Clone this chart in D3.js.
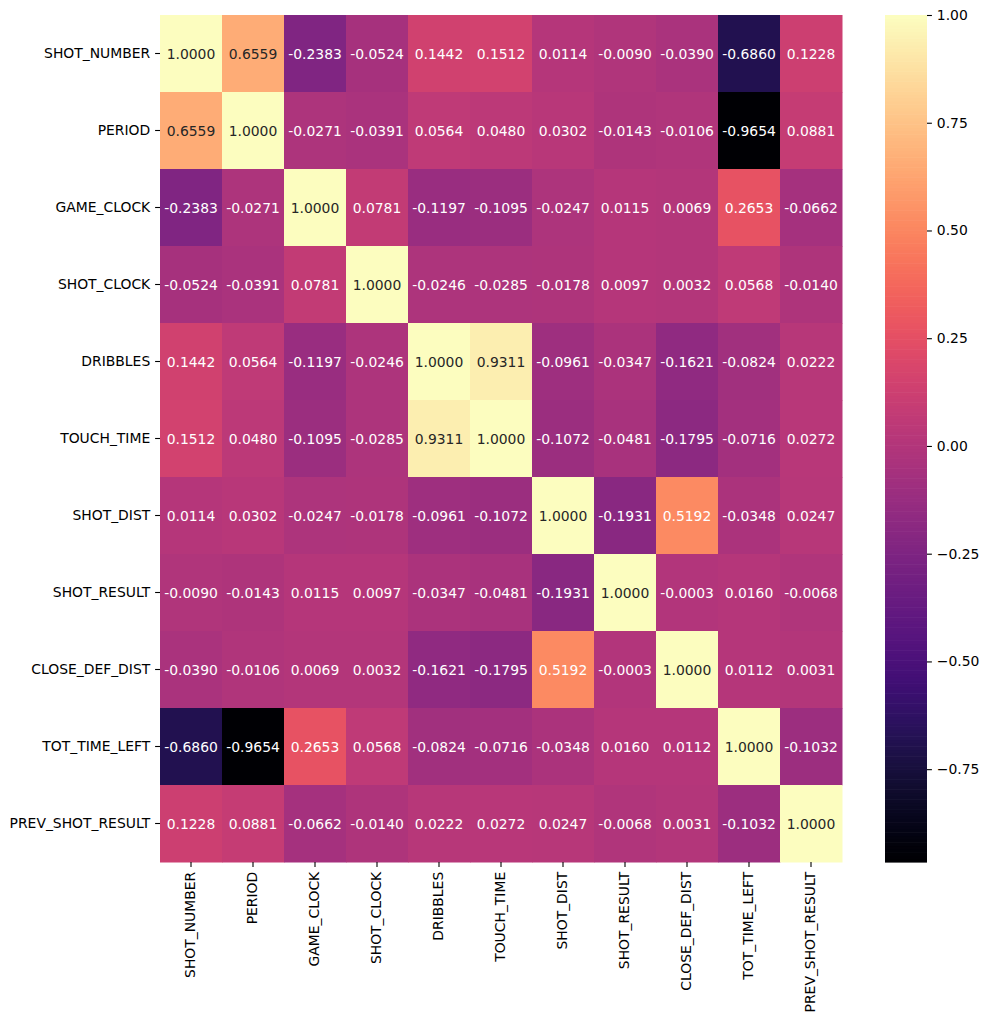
<!DOCTYPE html>
<html><head><meta charset="utf-8">
<script src="https://cdn.jsdelivr.net/npm/d3@7"></script>
<style>body{margin:0;background:#fff}svg text{font-family:"DejaVu Sans",sans-serif}</style>
</head><body><svg id="c" width="989" height="1022"></svg>
<script>
const categories = ["SHOT_NUMBER","PERIOD","GAME_CLOCK","SHOT_CLOCK","DRIBBLES","TOUCH_TIME","SHOT_DIST","SHOT_RESULT","CLOSE_DEF_DIST","TOT_TIME_LEFT","PREV_SHOT_RESULT"];
const rowShotNumber = [1.0000,0.6559,-0.2383,-0.0524,0.1442,0.1512,0.0114,-0.0090,-0.0390,-0.6860,0.1228];
const rowPeriod = [0.6559,1.0000,-0.0271,-0.0391,0.0564,0.0480,0.0302,-0.0143,-0.0106,-0.9654,0.0881];
const rowGameClock = [-0.2383,-0.0271,1.0000,0.0781,-0.1197,-0.1095,-0.0247,0.0115,0.0069,0.2653,-0.0662];
const rowShotClock = [-0.0524,-0.0391,0.0781,1.0000,-0.0246,-0.0285,-0.0178,0.0097,0.0032,0.0568,-0.0140];
const rowDribbles = [0.1442,0.0564,-0.1197,-0.0246,1.0000,0.9311,-0.0961,-0.0347,-0.1621,-0.0824,0.0222];
const rowTouchTime = [0.1512,0.0480,-0.1095,-0.0285,0.9311,1.0000,-0.1072,-0.0481,-0.1795,-0.0716,0.0272];
const rowShotDist = [0.0114,0.0302,-0.0247,-0.0178,-0.0961,-0.1072,1.0000,-0.1931,0.5192,-0.0348,0.0247];
const rowShotResult = [-0.0090,-0.0143,0.0115,0.0097,-0.0347,-0.0481,-0.1931,1.0000,-0.0003,0.0160,-0.0068];
const rowCloseDefDist = [-0.0390,-0.0106,0.0069,0.0032,-0.1621,-0.1795,0.5192,-0.0003,1.0000,0.0112,0.0031];
const rowTotTimeLeft = [-0.6860,-0.9654,0.2653,0.0568,-0.0824,-0.0716,-0.0348,0.0160,0.0112,1.0000,-0.1032];
const rowPrevShotResult = [0.1228,0.0881,-0.0662,-0.0140,0.0222,0.0272,0.0247,-0.0068,0.0031,-0.1032,1.0000];
const corr = [rowShotNumber,rowPeriod,rowGameClock,rowShotClock,rowDribbles,rowTouchTime,rowShotDist,rowShotResult,rowCloseDefDist,rowTotTimeLeft,rowPrevShotResult];
const colorbarTicks = [1.00,0.75,0.50,0.25,0.00,-0.25,-0.50,-0.75];

const svg = d3.select("#c");
const L=160,R=842,T=15,B=862;
const x = d3.scaleBand().domain(categories).range([L,R]);
const y = d3.scaleBand().domain(categories).range([T,B]);
const vmin = d3.min(corr.flat()), vmax = d3.max(corr.flat());
const color = d3.scaleSequential(d3.interpolateMagma).domain([vmin,vmax]);

function lum(c){
  const rgb=d3.rgb(c);
  const f=v=>{v/=255;return v<=0.03928?v/12.92:Math.pow((v+0.055)/1.055,2.4);};
  return 0.2126*f(rgb.r)+0.7152*f(rgb.g)+0.0722*f(rgb.b);
}

const cells=[];
corr.forEach((row,i)=>row.forEach((v,j)=>cells.push({r:categories[i],c:categories[j],v})));
svg.append("g").selectAll("rect").data(cells).join("rect")
  .attr("x",d=>x(d.c)).attr("y",d=>y(d.r))
  .attr("width",x.bandwidth()+0.5).attr("height",y.bandwidth()+0.5)
  .attr("fill",d=>color(d.v));
svg.append("g").selectAll("text").data(cells).join("text")
  .attr("x",d=>x(d.c)+x.bandwidth()/2).attr("y",d=>y(d.r)+y.bandwidth()/2)
  .attr("text-anchor","middle").attr("dominant-baseline","central")
  .attr("font-size","13.9px")
  .attr("fill",d=>lum(color(d.v))>0.408?"#262626":"#ffffff")
  .text(d=>d.v.toFixed(4));

const fs="13.9px";
const ya=svg.append("g").attr("transform",`translate(${L},0)`)
  .call(d3.axisLeft(y).tickSize(4.9).tickPadding(4.9));
ya.select(".domain").remove();
ya.selectAll("text").attr("font-size",fs).attr("fill","#000").attr("font-family","DejaVu Sans");
ya.selectAll("line").attr("stroke","#000").attr("stroke-width",1.1);

const xa=svg.append("g").attr("transform",`translate(0,${B})`)
  .call(d3.axisBottom(x).tickSize(4.9).tickPadding(4.9));
xa.select(".domain").remove();
xa.selectAll("line").attr("stroke","#000").attr("stroke-width",1.1);
xa.selectAll("text").attr("font-size",fs).attr("fill","#000").attr("font-family","DejaVu Sans")
  .attr("transform","rotate(-90)").attr("text-anchor","end").attr("dy","0.32em")
  .attr("x",-9.8).attr("y",0);

// colorbar
const CL=885,CR=927;
const cy=d3.scaleLinear().domain([vmin,vmax]).range([B,T]);
const steps=d3.range(0,256);
svg.append("g").selectAll("rect").data(steps).join("rect")
  .attr("x",CL).attr("width",CR-CL)
  .attr("y",i=>cy(vmin+(i+1)*(vmax-vmin)/256))
  .attr("height",(B-T)/256+0.6)
  .attr("fill",i=>color(vmin+(i+0.5)*(vmax-vmin)/256));
const ca=svg.append("g").attr("transform",`translate(${CR},0)`)
  .call(d3.axisRight(cy).tickValues(colorbarTicks).tickSize(4.9).tickPadding(4.9)
  .tickFormat(d=>d3.format(".2f")(d).replace("-","\u2212")));
ca.select(".domain").remove();
ca.selectAll("line").attr("stroke","#000").attr("stroke-width",1.1);
ca.selectAll("text").attr("font-size",fs).attr("fill","#000").attr("font-family","DejaVu Sans");
</script></body></html>
